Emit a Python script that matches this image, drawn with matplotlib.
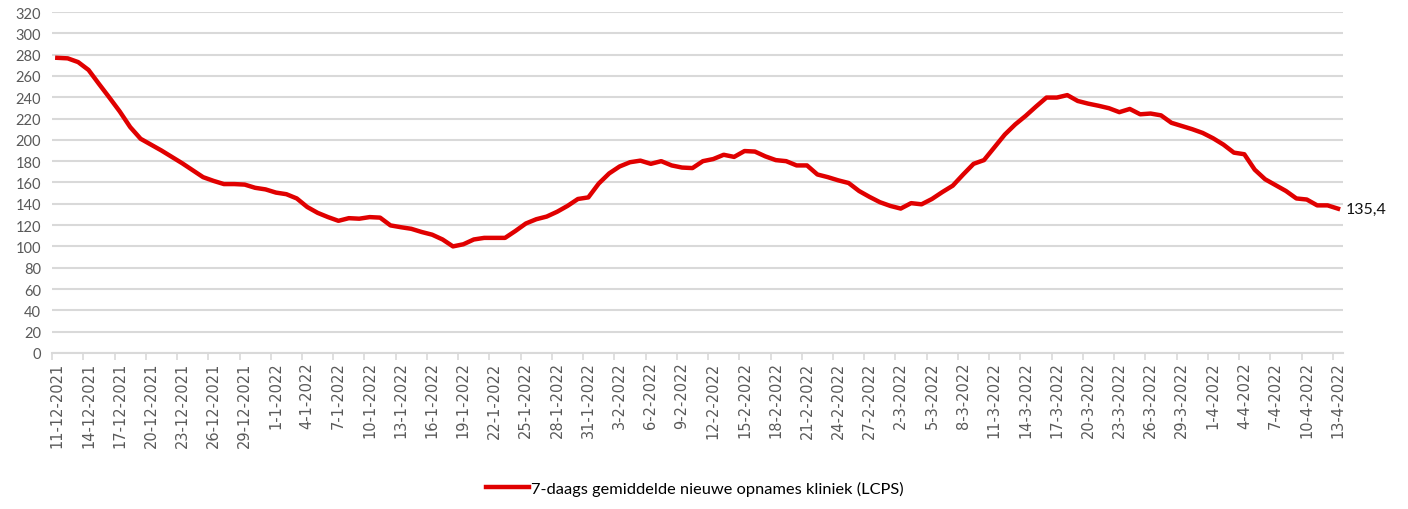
import numpy as np
import matplotlib
matplotlib.use("Agg")
import matplotlib.pyplot as plt
import datetime as dt

# 7-daags gemiddelde, 11-12-2021 t/m 13-4-2022
start = dt.date(2021, 12, 11)
waarden = [277, 276.5, 273, 265.6, 252.5, 239.7, 226.6, 212, 201, 195.5,
           190, 184, 178, 171.5, 165, 161.5, 158.5, 158.5, 158, 155,
           153.5, 150.5, 149, 145, 137, 131.5, 127.5, 124, 126.5, 126,
           127.5, 127, 119.7, 118, 116.5, 113.5, 111, 106.5, 100, 102,
           106.5, 108, 108, 108, 114.5, 121.5, 125.5, 128, 132.5, 138,
           144.5, 146, 159, 168.5, 175, 179, 180.5, 177.5, 180, 176,
           174, 173.5, 180, 182, 186, 184, 189.5, 189, 184.5, 181,
           180, 176, 176, 167.5, 165, 162, 159.5, 152, 146.5, 141.5,
           138, 135.5, 140.6, 139.5, 144.5, 151, 157, 167.5, 177.5, 181,
           193, 205, 214.5, 222.5, 231.3, 239.7, 239.7, 242, 236.5, 234,
           232, 229.7, 226, 229, 224, 224.7, 223, 216, 213, 210,
           206.5, 201.5, 195.5, 188, 186.5, 172, 163, 157.5, 152, 145,
           144, 138.5, 138.5, 135.4]
datums = [start + dt.timedelta(days=k) for k in range(len(waarden))]
labels = [f"{d.day}-{d.month}-{d.year}" for d in datums]
laatste = "135,4"
legenda = "7-daags gemiddelde nieuwe opnames kliniek (LCPS)"

x = np.arange(len(waarden))

fig = plt.figure(figsize=(14.08, 5.10), dpi=100)
ax = fig.add_axes([0.037, 0.306, 0.917, 0.6685])

grijs = "#595959"
ax.set_ylim(0, 320)
ax.set_yticks(np.arange(0, 321, 20))
ax.set_xlim(-0.5, len(waarden) - 0.5)
ax.yaxis.grid(True, color="#d9d9d9", linewidth=1.5)
ax.set_axisbelow(True)
for s in ["top", "right", "left"]:
    ax.spines[s].set_visible(False)
ax.spines["bottom"].set_color("#d9d9d9")
ax.spines["bottom"].set_linewidth(1.5)

ax.plot(x, waarden, color="#e00000", linewidth=3.2, solid_joinstyle="round",
        label=legenda, zorder=3)
ax.text(x[-1] + 0.7, waarden[-1], laatste, va="center", ha="left",
        fontsize=11.5, family="Lato", color="#111111")

ax.set_xticks(x[::3])
ax.set_xticklabels(labels[::3], rotation=90, fontsize=10.5, color=grijs,
                   family="DejaVu Sans")
ax.set_xticks(np.arange(-0.5, len(waarden), 3), minor=True)
ax.tick_params(axis="x", which="major", length=0, pad=6)
ax.tick_params(axis="x", which="minor", length=5, color="#d9d9d9", width=1.2)
ax.tick_params(axis="y", length=0, labelsize=10.5, labelcolor=grijs, pad=8)
for t in ax.get_yticklabels():
    t.set_family("Lato")

fig.legend(loc="center", bbox_to_anchor=(0.4935, 1 - 489 / 510), frameon=False,
           prop={"family": "Lato", "size": 11.8}, handlelength=2.6,
           handletextpad=0.1)

fig.savefig("out.png", dpi=100)
